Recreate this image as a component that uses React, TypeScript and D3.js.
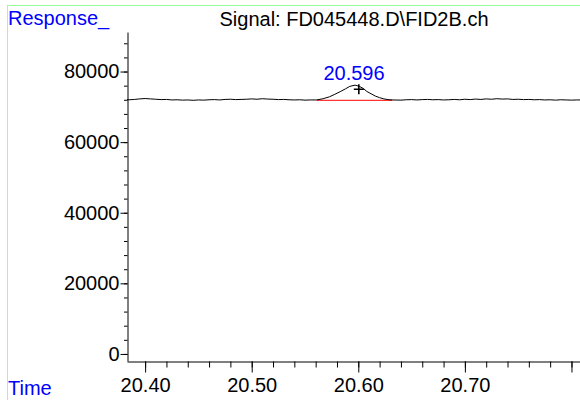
import React, { useEffect, useRef } from "react";
import * as d3 from "d3";

// retention time (min) and detector response
const times = [
  20.383, 20.385, 20.39, 20.395, 20.4, 20.405, 20.41, 20.415, 20.42, 20.425,
  20.43, 20.435, 20.44, 20.445, 20.45, 20.455, 20.46, 20.465, 20.47, 20.475,
  20.48, 20.485, 20.49, 20.495, 20.5, 20.505, 20.51, 20.515, 20.52, 20.525,
  20.53, 20.535, 20.54, 20.545, 20.55, 20.555, 20.561, 20.567, 20.573, 20.578,
  20.583, 20.588, 20.592, 20.597, 20.601, 20.605, 20.608, 20.612, 20.616,
  20.62, 20.624, 20.628, 20.632, 20.64, 20.645, 20.65, 20.655, 20.66, 20.665,
  20.67, 20.675, 20.68, 20.685, 20.69, 20.695, 20.7, 20.705, 20.71, 20.715,
  20.72, 20.725, 20.73, 20.735, 20.74, 20.745, 20.75, 20.755, 20.76, 20.765,
  20.77, 20.775, 20.78, 20.785, 20.79, 20.795, 20.8, 20.805, 20.808,
];
const response = [
  72050, 72000, 72100, 72250, 72350, 72250, 72150, 72050, 72100, 71950,
  72000, 71900, 71950, 71850, 71950, 71900, 72000, 72050, 71950, 72100,
  72150, 72050, 72100, 72150, 72250, 72150, 72300, 72200, 72150, 72050,
  72100, 72000, 71950, 72000, 71900, 71950, 71950, 72300, 72850, 73550,
  74300, 75100, 75800, 76150, 75800, 75150, 74350, 73700, 73050,
  72600, 72250, 72050, 71950, 71900, 72000, 72050, 71950, 72050, 72100,
  72000, 72050, 71950, 72000, 72100, 72000, 72150, 72050, 72200, 72100,
  72250, 72150, 72300, 72200, 72250, 72100, 72150, 72050, 72100, 72000,
  72050, 71950, 72000, 71900, 72000, 71950, 71900, 71950, 71950,
];

// integration baseline under the peak
const baseTimes = [20.561, 20.632];
const baseValues = [71850, 71850];

// peak apex marker and its label
const peakMark = { time: 20.6005, value: 75000, label: "20.596" };

const yMajor = [0, 20000, 40000, 60000, 80000];
const yMinor = d3.range(0, 90000, 4000);
const xMajor = [20.4, 20.5, 20.6, 20.7, 20.8];
const xLabels = ["20.40", "20.50", "20.60", "20.70", ""];
const xMinor = d3.range(20.4, 20.81, 0.02);

const FONT = "'Liberation Sans', Arial, sans-serif";

const Chromatogram = () => {
  const svgRef = useRef<SVGSVGElement | null>(null);

  useEffect(() => {
    const svg = d3.select(svgRef.current);
    svg.selectAll("*").remove();

    const x = d3.scaleLinear().domain([20.383, 20.808]).range([127, 580]);
    const y = d3.scaleLinear().domain([-2000, 91200]).range([361, 32]);

    // light green frame
    svg
      .append("rect")
      .attr("x", 7.5)
      .attr("y", 5.5)
      .attr("width", 620)
      .attr("height", 420)
      .attr("fill", "none")
      .attr("stroke", "#99ff99")
      .attr("stroke-width", 1);

    // y axis minor ticks
    svg
      .append("g")
      .attr("transform", `translate(127.5,0)`)
      .call(d3.axisLeft(y).tickValues(yMinor).tickSize(3.5).tickFormat(() => ""))
      .call((g) => g.select(".domain").remove());

    // y axis
    const yAxis = svg
      .append("g")
      .attr("transform", `translate(127.5,0)`)
      .call(
        d3
          .axisLeft(y)
          .tickValues(yMajor)
          .tickSize(7)
          .tickSizeOuter(0)
          .tickPadding(1)
          .tickFormat(d3.format("d"))
      );
    yAxis.selectAll("text").attr("font-size", 20).attr("font-family", FONT).attr("fill", "#000");

    // x axis minor ticks
    svg
      .append("g")
      .attr("transform", `translate(0,361.5)`)
      .call(d3.axisBottom(x).tickValues(xMinor).tickSize(6).tickFormat(() => ""))
      .call((g) => g.select(".domain").remove());

    // x axis
    const xAxis = svg
      .append("g")
      .attr("transform", `translate(0,361.5)`)
      .call(
        d3
          .axisBottom(x)
          .tickValues(xMajor)
          .tickSize(11)
          .tickSizeOuter(0)
          .tickPadding(5)
          .tickFormat((d, i) => xLabels[i])
      );
    xAxis.selectAll("text").attr("font-size", 20).attr("font-family", FONT).attr("fill", "#000");

    // baseline
    svg
      .append("line")
      .attr("x1", x(baseTimes[0]))
      .attr("x2", x(baseTimes[1]))
      .attr("y1", y(baseValues[0]))
      .attr("y2", y(baseValues[1]))
      .attr("stroke", "#ff0000")
      .attr("stroke-width", 1);

    // signal trace
    const line = d3
      .line<number>()
      .x((d, i) => x(times[i]))
      .y((d) => y(d));
    svg
      .append("path")
      .datum(response)
      .attr("d", line)
      .attr("fill", "none")
      .attr("stroke", "#000")
      .attr("stroke-width", 1);

    // apex cross
    const px = x(peakMark.time);
    const py = y(peakMark.value);
    svg
      .append("path")
      .attr("d", `M${px - 5},${py}H${px + 5}M${px},${py - 5}V${py + 5}`)
      .attr("stroke", "#000")
      .attr("stroke-width", 1.6);

    svg
      .append("text")
      .attr("x", x(20.596))
      .attr("y", 80)
      .attr("text-anchor", "middle")
      .attr("font-size", 20)
      .attr("font-family", FONT)
      .attr("fill", "#0000ff")
      .text(peakMark.label);

    // titles
    svg
      .append("text")
      .attr("x", 354)
      .attr("y", 26)
      .attr("text-anchor", "middle")
      .attr("font-size", 20)
      .attr("font-family", FONT)
      .attr("fill", "#000")
      .text("Signal: FD045448.D\\FID2B.ch");

    svg
      .append("text")
      .attr("x", 8)
      .attr("y", 25)
      .attr("font-size", 20)
      .attr("font-family", FONT)
      .attr("fill", "#0000ff")
      .text("Response_");

    svg
      .append("text")
      .attr("x", 8)
      .attr("y", 395)
      .attr("font-size", 20)
      .attr("font-family", FONT)
      .attr("fill", "#0000ff")
      .text("Time");
  }, []);

  return (
    <svg
      ref={svgRef}
      width={580}
      height={400}
      style={{ position: "absolute", left: 0, top: 0, background: "#fff" }}
    ></svg>
  );
};

export default function App() {
  return <Chromatogram />;
}
